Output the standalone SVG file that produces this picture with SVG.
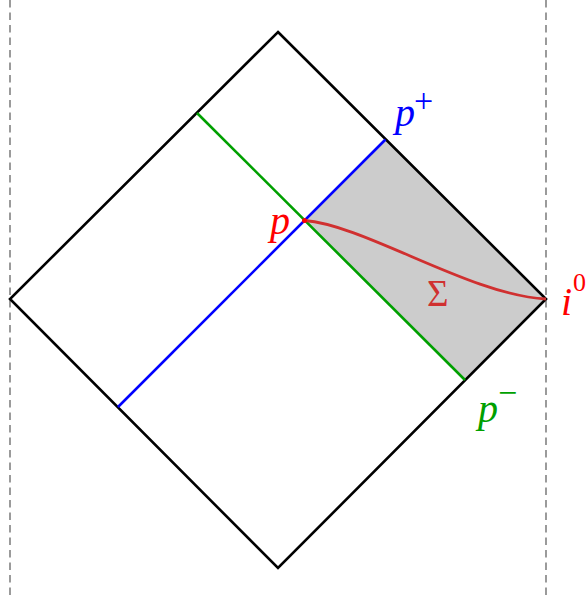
<svg xmlns="http://www.w3.org/2000/svg" width="586" height="598" viewBox="0 0 586 598">
<style>
.lbl{font-family:"Liberation Serif","DejaVu Serif",serif;font-style:italic;font-size:40px}
.sup{font-family:"Liberation Serif","DejaVu Serif",serif;font-size:34px}
</style>
<rect width="586" height="598" fill="#ffffff"/>
<g id="boundaries" stroke="#666" stroke-width="1.3" stroke-dasharray="7.5,5" fill="none">
<line x1="10" y1="0" x2="10" y2="598"/>
<line x1="546" y1="0" x2="546" y2="598"/>
</g>
<g id="region">
<polygon points="304.5,220.5 385.5,139.5 546,299 465,380" fill="#cccccc"/>
</g>
<g id="diamond">
<polygon points="278,32 546,299 278,568 10,299" fill="none" stroke="#000" stroke-width="2.6" stroke-linejoin="miter"/>
</g>
<g id="connectors" fill="none" stroke-width="2.6">
<line x1="197" y1="113" x2="465" y2="380" stroke="#00a000"/>
<line x1="118" y1="407" x2="385.5" y2="139.5" stroke="#0000ff"/>
<path d="M304.5,220.5 C365,225 470,295 546,299" stroke="#d03030" stroke-width="2.8"/>
<circle cx="304.5" cy="220.5" r="2.5" fill="#ff0000" stroke="none"/>
</g>
<g id="label-p"><text class="lbl" x="270" y="234" fill="#ff0000">p</text></g>
<g id="label-pplus"><text class="lbl" x="395" y="126" fill="#0000ff">p</text><text class="sup" x="414" y="112" fill="#0000ff">+</text></g>
<g id="label-sigma"><text x="427" y="306" fill="#d03030" font-family="Liberation Serif, DejaVu Serif, serif" font-size="37">Σ</text></g>
<g id="label-i0"><text class="lbl" x="561" y="315" fill="#ff0000">i</text><text x="573" y="291" fill="#ff0000" font-family="Liberation Serif, DejaVu Serif, serif" font-size="26">0</text></g>
<g id="label-pminus"><text class="lbl" x="478" y="422" fill="#00a000">p</text><text class="sup" x="498" y="404" fill="#00a000">−</text></g>
</svg>
